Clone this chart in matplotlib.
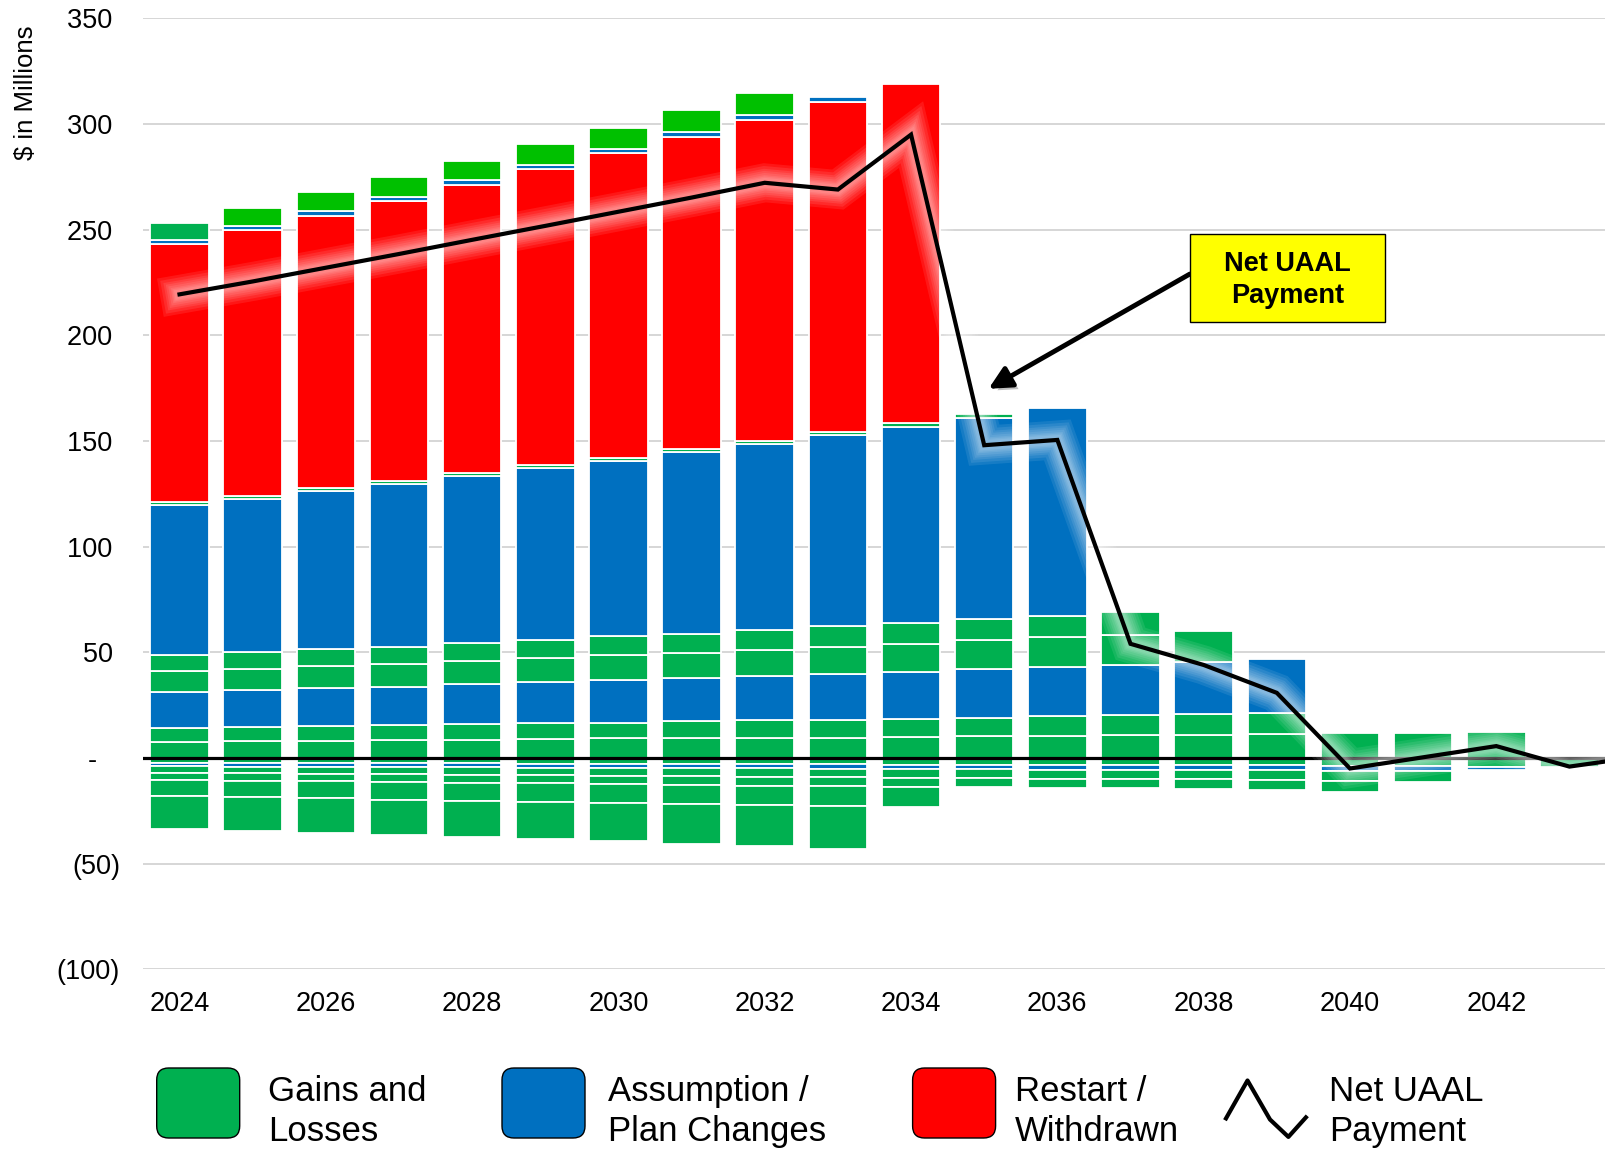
import numpy as np
import matplotlib
matplotlib.use("Agg")
import matplotlib.pyplot as plt
from matplotlib import patheffects
from matplotlib.patches import FancyBboxPatch, Rectangle
from matplotlib.lines import Line2D

plt.rcParams['font.family'] = ['Liberation Sans', 'DejaVu Sans']

GREEN = '#00B050'
BRIGHT_GREEN = '#00C000'
BLUE = '#0070C0'
RED = '#FF0000'

years = list(range(2024, 2044))

# positive layers, bottom to top ($ millions)
gains_1 = [7.7, 7.8, 8.1, 8.4, 8.7, 9.0, 9.2, 9.3, 9.6, 9.6, 9.9, 10.4, 10.6, 10.7, 11.0, 11.4, 11.6, 12.0, 12.3, 0]
gains_2 = [6.5, 6.8, 7.1, 7.0, 7.4, 7.3, 7.5, 8.0, 8.2, 8.5, 8.7, 8.6, 9.1, 9.4, 9.6, 9.8, 0, 0, 0, 0]
assump_1 = [17.2, 17.4, 17.8, 18.4, 18.8, 19.7, 20.1, 20.5, 21.0, 21.8, 22.1, 23.0, 23.4, 24.0, 24.9, 25.6, 0, 0, 0, 0]
gains_3 = [9.9, 10.3, 10.4, 10.8, 10.9, 11.4, 11.8, 12.0, 12.4, 12.6, 13.1, 13.6, 13.9, 14.3, 14.5, 0, 0, 0, 0, 0]
gains_4 = [7.5, 7.6, 8.0, 8.1, 8.5, 8.6, 8.9, 9.0, 9.3, 9.8, 10.0, 10.1, 10.2, 10.8, 0, 0, 0, 0, 0, 0]
assump_2 = [70.9, 72.7, 74.8, 77.0, 79.1, 81.0, 83.0, 85.8, 88.0, 90.3, 93.0, 95.4, 98.5, 0, 0, 0, 0, 0, 0, 0]
gains_5 = [1.5, 1.5, 1.5, 1.5, 1.5, 1.5, 1.5, 1.5, 1.7, 1.7, 1.6, 1.6, 0, 0, 0, 0, 0, 0, 0, 0]
restart = [122.0, 125.8, 129.0, 132.3, 136.4, 140.3, 144.3, 148.0, 151.9, 156.2, 160.4, 0, 0, 0, 0, 0, 0, 0, 0, 0]
assump_3 = [1.8, 1.9, 2.2, 2.1, 2.0, 2.0, 2.0, 2.1, 2.1, 2.2, 0, 0, 0, 0, 0, 0, 0, 0, 0, 0]
gains_6 = [8.3, 0, 0, 0, 0, 0, 0, 0, 0, 0, 0, 0, 0, 0, 0, 0, 0, 0, 0, 0]
gains_7 = [0, 8.6, 8.9, 9.4, 9.1, 9.6, 9.6, 10.3, 10.7, 0, 0, 0, 0, 0, 0, 0, 0, 0, 0, 0]

# negative layers, from zero downwards (magnitudes)
neg_1 = [2.2, 2.3, 2.4, 2.5, 2.6, 2.7, 2.8, 2.9, 3.0, 3.1, 3.15, 3.2, 3.35, 3.3, 3.3, 3.5, 3.7, 3.9, 4.1, 4.3]
neg_2 = [1.8, 1.8, 1.8, 1.9, 1.9, 1.9, 1.9, 2.0, 2.0, 2.0, 2.0, 2.1, 2.3, 2.3, 2.3, 2.4, 2.4, 2.5, 1.8, 0]
neg_3 = [3.1, 3.2, 3.3, 3.4, 3.5, 3.6, 3.7, 3.8, 3.9, 4.0, 4.3, 4.3, 4.1, 4.2, 4.5, 4.6, 4.9, 4.8, 0, 0]
neg_4 = [3.4, 3.5, 3.6, 3.7, 3.8, 3.9, 4.0, 4.1, 4.2, 4.3, 4.4, 4.1, 4.25, 4.5, 4.7, 4.7, 4.9, 0, 0, 0]
neg_5 = [7.7, 7.9, 8.1, 8.3, 8.5, 8.7, 8.9, 9.1, 9.2, 9.4, 9.45, 0, 0, 0, 0, 0, 0, 0, 0, 0]
neg_6 = [15.3, 15.8, 16.2, 16.6, 17.1, 17.5, 18.0, 18.9, 19.4, 20.4, 0, 0, 0, 0, 0, 0, 0, 0, 0, 0]

line_years = list(range(2024, 2045))
net_uaal = [219.4, 225.5, 232.0, 238.5, 245.2, 251.8, 258.5, 265.2, 272.2, 269.0, 295.0,
            148.0, 150.5, 54.0, 44.0, 30.8, -5.0, 0.3, 5.6, -4.1, 0.8]

y_ticks = [-100, -50, 0, 50, 100, 150, 200, 250, 300, 350]
y_labels = ['(100)', '(50)', '-   ', '50 ', '100 ', '150 ', '200 ', '250 ', '300 ', '350 ']
x_ticks = list(range(2024, 2043, 2))


fig = plt.figure(figsize=(16.06, 11.5), dpi=100)
ax = fig.add_axes([0.089, 0.1572, 0.911, 0.8268])

x = np.array(years)


def draw_stack(layers, sign):
    base = np.zeros(len(years))
    for vals, color in layers:
        vals = np.array(vals, dtype=float)
        keep = vals > 0
        ax.bar(x[keep], sign * vals[keep], width=0.8, bottom=base[keep],
               color=color, edgecolor='white', linewidth=1.3, zorder=2)
        base = base + sign * vals


draw_stack([(gains_1, GREEN), (gains_2, GREEN), (assump_1, BLUE), (gains_3, GREEN),
            (gains_4, GREEN), (assump_2, BLUE), (gains_5, GREEN), (restart, RED),
            (assump_3, BLUE), (gains_6, GREEN), (gains_7, BRIGHT_GREEN)], 1)
draw_stack([(neg_1, GREEN), (neg_2, BLUE), (neg_3, GREEN), (neg_4, GREEN),
            (neg_5, GREEN), (neg_6, GREEN)], -1)

ax.axhline(0, color='black', linewidth=2.3, zorder=3)

# soft white glow under the net payment line
glow = [patheffects.Stroke(linewidth=w, foreground='white', alpha=0.09)
        for w in (28, 24, 20, 17, 14, 11, 9, 7)]
glow.append(patheffects.Normal())
ax.plot(line_years, net_uaal, color='black', linewidth=3.0, zorder=4,
        solid_joinstyle='miter', path_effects=glow)

# callout
ax.add_patch(Rectangle((2037.81, 206.3), 2.67, 41.8, facecolor='#FFFF00',
                       edgecolor='black', linewidth=1.0, zorder=6))
ax.text(2039.145, 226.3, 'Net UAAL\nPayment', ha='center', va='center',
        fontsize=19.5, fontweight='bold', linespacing=1.3, zorder=7)
ax.annotate('', xy=(2035.06, 174.7), xytext=(2037.81, 229.0),
            arrowprops=dict(arrowstyle='-|>', color='black', lw=3.5, mutation_scale=34,
                            shrinkA=0, shrinkB=0,
                            path_effects=[patheffects.withSimplePatchShadow(
                                offset=(3, -3), shadow_rgbFace='gray', alpha=0.5)]),
            zorder=5)

ax.set_xlim(2023.5, 2043.5)
ax.set_ylim(-100, 350)
ax.set_yticks(y_ticks)
ax.set_yticklabels(y_labels)
ax.set_xticks(x_ticks)
ax.set_xticklabels([str(v) for v in x_ticks])
ax.tick_params(axis='y', length=0, pad=16.5, labelsize=19.5)
ax.tick_params(axis='x', length=0, pad=16, labelsize=19.5)
ax.grid(axis='y', color='#CCCCCC', linewidth=1.1)
ax.set_axisbelow(True)
for s in ax.spines.values():
    s.set_visible(False)

fig.text(0.0165, 0.978, '$ in Millions', rotation=90, va='top', ha='center', fontsize=18.5)

# legend
boxes = [(1.567, GREEN, 'Gains and\nLosses', 268),
         (5.02, BLUE, 'Assumption /\nPlan Changes', 608),
         (9.126, RED, 'Restart /\nWithdrawn', 1015)]
for x0, color, label, tx in boxes:
    fig.add_artist(FancyBboxPatch((x0, 0.12), 0.83, 0.70,
                                  boxstyle='round,pad=0,rounding_size=0.12',
                                  facecolor=color, edgecolor='black', linewidth=1.0,
                                  transform=fig.dpi_scale_trans))
    fig.text(tx / 1606, 1 - 1111.5 / 1150, label, ha='left', va='center',
             fontsize=25, linespacing=1.27)

icon_x = [1226, 1247.5, 1270, 1288.4, 1305.9]
icon_y = [1118.4, 1080.5, 1119.5, 1136.9, 1117.4]
fig.add_artist(Line2D([v / 1606 for v in icon_x], [1 - v / 1150 for v in icon_y],
                      color='black', linewidth=3.0, transform=fig.transFigure))
fig.text(1329 / 1606, 1 - 1111.5 / 1150, 'Net UAAL\nPayment', ha='left', va='center',
         fontsize=25, linespacing=1.27)

fig.savefig('out.png', dpi=100)
